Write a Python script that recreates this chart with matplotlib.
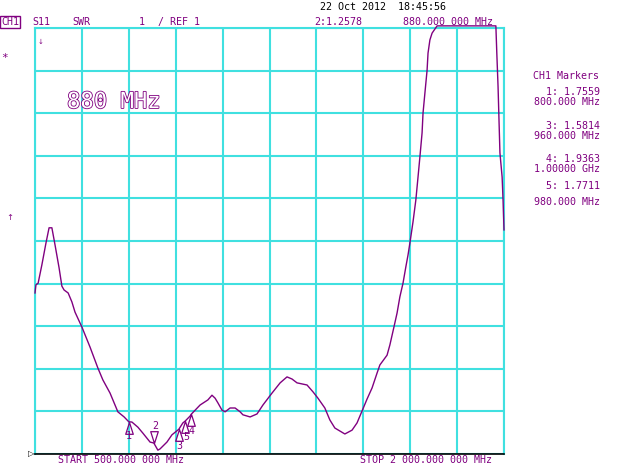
import matplotlib.pyplot as plt
import matplotlib.patheffects as pe
from matplotlib.path import Path
import numpy as np

# SWR trace (MHz, SWR)
freq_mhz = [500, 503, 510, 522, 535, 545, 554, 564, 577, 586, 593, 606, 618, 628,
            650, 676, 701, 717, 740, 765, 785, 800, 810, 829, 845, 868, 880, 893,
            900, 922, 938, 960, 973, 980, 996, 1000, 1028, 1053, 1066, 1076, 1085,
            1098, 1108, 1124, 1140, 1156, 1165, 1188, 1210, 1229, 1258, 1284, 1306,
            1322, 1338, 1370, 1389, 1405, 1427, 1443, 1459, 1475, 1491, 1514, 1530,
            1546, 1562, 1578, 1594, 1603, 1626, 1635, 1648, 1658, 1667, 1677, 1686,
            1693, 1699, 1709, 1718, 1725, 1731, 1738, 1741, 1747, 1754, 1757, 1763,
            1770, 1786, 1974, 1977, 1981, 1984, 1987, 1994, 1997, 2000]
swr = [4.78, 4.97, 5.01, 5.44, 5.95, 6.31, 6.31, 5.91, 5.37, 4.94, 4.85, 4.78, 4.57, 4.33,
       3.98, 3.51, 3.02, 2.74, 2.43, 1.99, 1.87, 1.756, 1.75, 1.63, 1.49, 1.28, 1.258, 1.09,
       1.12, 1.28, 1.45, 1.581, 1.73, 1.771, 1.89, 1.936, 2.15, 2.27, 2.38, 2.31, 2.20,
       2.03, 1.99, 2.08, 2.08, 1.99, 1.92, 1.87, 1.94, 2.15, 2.43, 2.67, 2.81,
       2.76, 2.67, 2.62, 2.46, 2.31, 2.08, 1.80, 1.61, 1.54, 1.47, 1.56, 1.73,
       2.01, 2.29, 2.55, 2.90, 3.09, 3.32, 3.56, 3.98, 4.31, 4.69, 5.01, 5.39,
       5.67, 5.95, 6.45, 6.96, 7.50, 7.97, 8.54, 9.00, 9.47, 10.01, 10.41, 10.72,
       10.88, 11.05, 11.05, 10.41, 9.62, 8.84, 8.07, 7.50, 6.96, 6.26]

# markers: number, freq, value, pointing
mk_num = ["1", "2", "3", "4", "5"]
mk_freq = [800, 880, 960, 1000, 980]
mk_val = [1.7559, 1.2578, 1.5814, 1.9363, 1.7711]
mk_up = [True, False, True, True, True]
mk_label_off = [(0, -14), (1, 17), (1, -17), (0, -17), (1, -16)]

marker_list = [("1: 1.7559", "800.000 MHz"), ("3: 1.5814", "960.000 MHz"),
               ("4: 1.9363", "1.00000 GHz"), ("5: 1.7711", "980.000 MHz")]

PURPLE = "#800080"
CYAN = "#40E0E0"
MONO = "DejaVu Sans Mono"
FS = 7.2

fig = plt.figure(figsize=(6.4, 4.65), dpi=100)
ax = fig.add_axes([35 / 640, 1 - 454 / 465, 469 / 640, 426 / 465])
ax.set_xlim(500, 2000)
ax.set_ylim(1, 11)
ax.set_xticks(np.arange(500, 2001, 150))
ax.set_yticks(np.arange(1, 12, 1))
ax.tick_params(length=0, labelbottom=False, labelleft=False)
ax.grid(True, color=CYAN, lw=1.5)
for s in ["left", "top", "right"]:
    ax.spines[s].set_color(CYAN)
    ax.spines[s].set_linewidth(1.5)
ax.spines["bottom"].set_color("black")
ax.spines["bottom"].set_linewidth(1.2)

ax.plot(freq_mhz, swr, color=PURPLE, lw=1.0, clip_on=False, zorder=3)

up_tri = Path([(0, 0), (-0.32, -1), (0.32, -1), (0, 0)])
down_tri = Path([(0, 0), (-0.32, 1), (0.32, 1), (0, 0)])
for n, f, v, up, off in zip(mk_num, mk_freq, mk_val, mk_up, mk_label_off):
    ax.plot([f], [v], marker=up_tri if up else down_tri, ms=17, mfc="none",
            mec=PURPLE, mew=0.9, zorder=4)
    ax.annotate(n, (f, v), xytext=off, textcoords="offset pixels", ha="center",
                va="center", color=PURPLE, fontsize=FS, family=MONO)

# header
fig.text(1 / 640, 1 - 22 / 465, "CH1", color=PURPLE, fontsize=FS, family=MONO, va="center",
         bbox=dict(boxstyle="square,pad=0.1", fc="white", ec=PURPLE, lw=1))
fig.text(32 / 640, 1 - 22 / 465, "S11", color=PURPLE, fontsize=FS, family=MONO, va="center")
fig.text(72 / 640, 1 - 22 / 465, "SWR", color=PURPLE, fontsize=FS, family=MONO, va="center")
fig.text(139 / 640, 1 - 22 / 465, "1", color=PURPLE, fontsize=FS, family=MONO, va="center")
fig.text(158 / 640, 1 - 22 / 465, "/ REF 1", color=PURPLE, fontsize=FS, family=MONO, va="center")
fig.text(314 / 640, 1 - 22 / 465, "2:1.2578", color=PURPLE, fontsize=FS, family=MONO, va="center")
fig.text(403 / 640, 1 - 22 / 465, "880.000 000 MHz", color=PURPLE, fontsize=FS, family=MONO,
         va="center")
fig.text(320 / 640, 1 - 7 / 465, "22 Oct 2012  18:45:56", color="black", fontsize=FS,
         family=MONO, va="center")

# marker table
fig.text(566 / 640, 1 - 76 / 465, "CH1 Markers", color=PURPLE, fontsize=FS, family=MONO,
         ha="center", va="center")
rows_y = [(92, 102), (126, 136), (159, 169), (186, 202)]
for (val, fr), (y1, y2) in zip(marker_list, rows_y):
    fig.text(600 / 640, 1 - y1 / 465, val, color=PURPLE, fontsize=FS, family=MONO,
             ha="right", va="center")
    fig.text(600 / 640, 1 - y2 / 465, fr, color=PURPLE, fontsize=FS, family=MONO,
             ha="right", va="center")

# big outlined label
fig.text(67 / 640, 1 - 102 / 465, "880 MHz", color="white", fontsize=16, family=MONO,
         va="center", path_effects=[pe.withStroke(linewidth=1.2, foreground=PURPLE)])

# footer
fig.text(58 / 640, 1 - 460 / 465, "START 500.000 000 MHz", color=PURPLE, fontsize=FS,
         family=MONO, va="center")
fig.text(360 / 640, 1 - 460 / 465, "STOP 2 000.000 000 MHz", color=PURPLE, fontsize=FS,
         family=MONO, va="center")

# small side symbols
fig.text(28 / 640, 1 - 454 / 465, "\u25b7", color="black", fontsize=6, family="DejaVu Sans",
         va="center")
fig.text(1 / 640, 1 - 58 / 465, "*", color=PURPLE, fontsize=8, family=MONO, va="center")
fig.text(6 / 640, 1 - 218 / 465, "\u2191", color=PURPLE, fontsize=6, family="DejaVu Sans",
         va="center")
fig.text(38 / 640, 1 - 42 / 465, "\u2193", color=PURPLE, fontsize=5, family="DejaVu Sans",
         va="center")

fig.savefig("out.png", dpi=100, facecolor="white")
